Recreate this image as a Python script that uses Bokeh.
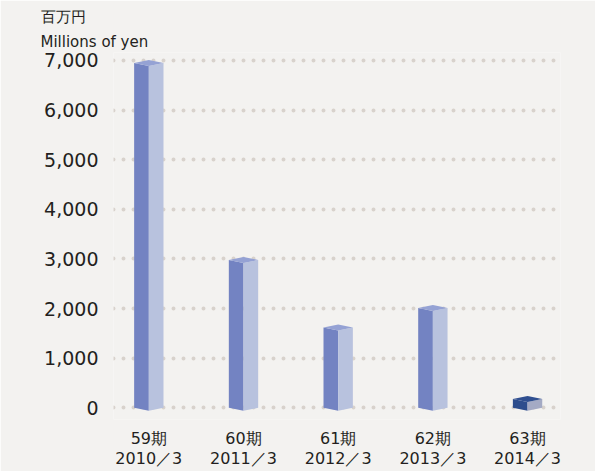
from bokeh.plotting import figure
from bokeh.models import FixedTicker, Range1d, Title, NumeralTickFormatter
from bokeh.embed import file_html
from bokeh.resources import INLINE

# data
periods = ["59期", "60期", "61期", "62期", "63期"]
years = ["2010／3", "2011／3", "2012／3", "2013／3", "2014／3"]
values = [6950, 2980, 1620, 2010, 180]
y_ticks = [0, 1000, 2000, 3000, 4000, 5000, 6000, 7000]

BG = "#f3f2f0"
TXT = "#231f20"

p = figure(width=595, height=471, output_backend="svg", toolbar_location=None,
           x_range=Range1d(-0.373, 4.348), y_range=Range1d(-235, 7161),
           min_border_left=113, min_border_right=35, min_border_top=52,
           min_border_bottom=51)
p.background_fill_color = BG
p.border_fill_color = BG
p.outline_line_color = None

# grid
p.xgrid.grid_line_color = None
p.ygrid.ticker = FixedTicker(ticks=y_ticks)
p.ygrid.grid_line_color = "#d8d2cc"
p.ygrid.grid_line_width = 4
p.ygrid.grid_line_dash = "0 10"
p.ygrid.grid_line_cap = "round"

# axes
p.yaxis.ticker = FixedTicker(ticks=y_ticks)
p.yaxis.formatter = NumeralTickFormatter(format="0,0")
p.yaxis.axis_line_color = None
p.yaxis.major_tick_line_color = None
p.yaxis.minor_tick_line_color = None
p.yaxis.major_label_standoff = 9
p.yaxis.major_label_text_font = "DejaVu Sans"
p.yaxis.major_label_text_font_size = "19px"
p.yaxis.major_label_text_color = TXT

p.xaxis.ticker = FixedTicker(ticks=list(range(len(periods))))
p.xaxis.major_label_overrides = {i: f"{a}\n{b}" for i, (a, b) in enumerate(zip(periods, years))}
p.xaxis.axis_line_color = None
p.xaxis.major_tick_line_color = None
p.xaxis.minor_tick_line_color = None
p.xaxis.major_label_standoff = 3
p.xaxis.major_label_text_font = "DejaVu Sans"
p.xaxis.major_label_text_font_size = "16px"
p.xaxis.major_label_text_line_height = 1.1
p.xaxis.major_label_text_color = TXT

# 3D bars
w = 0.155
d = 60
for i, v in enumerate(values):
    c = i
    if i == len(values) - 1:
        lc, rc, tc = "#2d4d8d", "#a4aac4", "#2f4f90"
    else:
        lc, rc, tc = "#7383c2", "#b8c2de", "#95a2d4"
    p.patch([c - w, c, c, c - w], [v, v - d, -d, 0], fill_color=lc, line_color=None)
    p.patch([c, c + w, c + w, c], [v - d, v, 0, -d], fill_color=rc, line_color=None)
    p.patch([c - w, c, c + w, c], [v, v - d, v, v + d], fill_color=tc, line_color=None)

# unit title
p.add_layout(Title(text="百万円\nMillions of yen", align="left", offset=-73,
                   standoff=3, text_font="DejaVu Sans", text_font_size="15px",
                   text_font_style="normal", text_line_height=1.4,
                   text_color=TXT), "above")

open("out.html", "w").write(file_html(p, INLINE))
